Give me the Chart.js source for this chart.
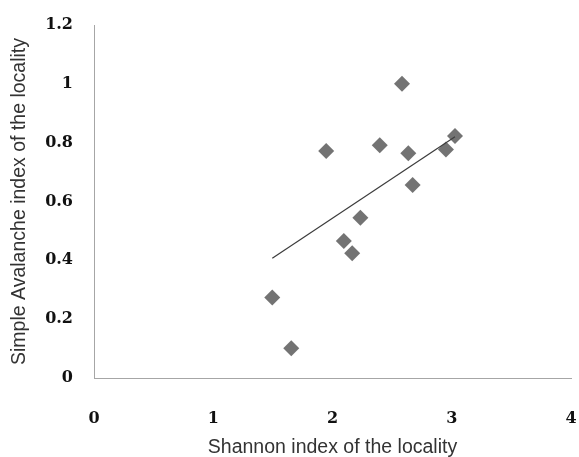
<!DOCTYPE html>
<html>
<head>
<meta charset="utf-8">
<script src="https://cdn.jsdelivr.net/npm/chart.js@4"></script>
<style>
  html, body { margin: 0; padding: 0; background: #ffffff; }
  #wrap { width: 579px; height: 457px; position: relative; }
</style>
</head>
<body>
<div id="wrap"><canvas id="c" width="579" height="457"></canvas></div>
<script>
// Data
const shannonIndex = [1.495, 1.654, 1.947, 2.095, 2.165, 2.234, 2.396, 2.583, 2.636, 2.672, 2.951, 3.027];
const avalancheIndex = [0.274, 0.101, 0.772, 0.466, 0.424, 0.545, 0.791, 1.0, 0.764, 0.656, 0.777, 0.823];
const trendX = [1.495, 3.027];
const trendY = [0.407, 0.820];
const xTicks = [0, 1, 2, 3, 4];
const yTicks = [0, 0.2, 0.4, 0.6, 0.8, 1, 1.2];

const points = shannonIndex.map((x, i) => ({ x: x, y: avalancheIndex[i] }));
const trend = trendX.map((x, i) => ({ x: x, y: trendY[i] }));

const tickFont = { family: '"DejaVu Serif", serif', size: 16, weight: 'bold' };
const titleFont = { family: '"Liberation Sans", Arial, sans-serif', size: 19.5 };

new Chart(document.getElementById('c'), {
  type: 'scatter',
  data: {
    datasets: [
      {
        type: 'line',
        data: trend,
        borderColor: '#3c3c3c',
        borderWidth: 1.2,
        pointRadius: 0,
        fill: false
      },
      {
        data: points,
        pointStyle: 'rectRot',
        pointRadius: 8,
        backgroundColor: '#737373',
        borderColor: '#737373',
        borderWidth: 0
      }
    ]
  },
  options: {
    responsive: false,
    animation: false,
    devicePixelRatio: 1,
    layout: { padding: { top: 25, right: 7, left: 0, bottom: 0 } },
    plugins: { legend: { display: false }, tooltip: { enabled: false } },
    scales: {
      x: {
        type: 'linear',
        min: 0, max: 4,
        afterBuildTicks: (s) => { s.ticks = xTicks.map(v => ({ value: v })); },
        afterFit: (s) => { s.height = 79; s.paddingLeft = 6; s.paddingRight = 6; },
        grid: { display: false, drawTicks: false },
        border: { display: true, color: '#a6a6a6', width: 1 },
        ticks: { font: tickFont, color: '#111111', padding: 31, maxRotation: 0 },
        title: { display: true, text: 'Shannon index of the locality', font: titleFont, color: '#333333', padding: { top: 0, bottom: -2 } }
      },
      y: {
        type: 'linear',
        min: 0, max: 1.2,
        afterBuildTicks: (s) => { s.ticks = yTicks.map(v => ({ value: v })); },
        afterFit: (s) => { s.width = 94; s.paddingTop = 10; s.paddingBottom = 10; },
        grid: { display: false, drawTicks: false },
        border: { display: true, color: '#a6a6a6', width: 1 },
        ticks: { font: tickFont, color: '#111111', padding: 21, callback: (v) => String(Math.round(v * 10) / 10) },
        title: { display: true, text: 'Simple Avalanche index of the locality', font: titleFont, color: '#333333', padding: { top: 8, bottom: 0 } }
      }
    }
  }
});
</script>
</body>
</html>
